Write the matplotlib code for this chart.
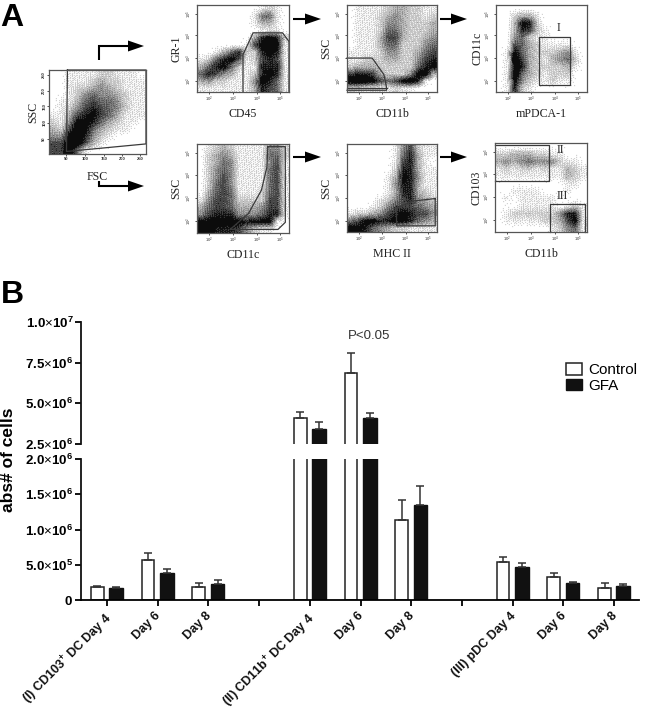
import numpy as np
import matplotlib
matplotlib.use("Agg")
import matplotlib.pyplot as plt
from matplotlib.patches import Patch
from matplotlib.transforms import ScaledTranslation

plt.rcParams['font.family'] = ['Liberation Sans', 'DejaVu Sans']
plt.rcParams['mathtext.fontset'] = 'custom'
plt.rcParams['mathtext.rm'] = 'Liberation Sans'
plt.rcParams['mathtext.bf'] = 'Liberation Sans:bold'

W, H = 650, 710

# ---- bar chart values
categories = ["(I) CD103$^{\\mathbf{+}}$ DC Day 4", "Day 6", "Day 8", "",
              "(II) CD11b$^{\\mathbf{+}}$ DC Day 4", "Day 6", "Day 8", "",
              "(III) pDC Day 4", "Day 6", "Day 8"]
control = [1.84e5, 5.74e5, 1.84e5, np.nan, 4.08e6, 6.89e6, 1.13e6, np.nan, 5.46e5, 3.29e5, 1.65e5]
control_top = [1.98e5, 6.64e5, 2.35e5, np.nan, 4.47e6, 8.07e6, 1.416e6, np.nan, 6.12e5, 3.86e5, 2.40e5]
gfa = [1.74e5, 3.81e5, 2.26e5, np.nan, 3.40e6, 4.08e6, 1.35e6, np.nan, 4.66e5, 2.35e5, 1.93e5]
gfa_top = [1.85e5, 4.38e5, 2.82e5, np.nan, 3.83e6, 4.43e6, 1.62e6, np.nan, 5.27e5, 2.59e5, 2.26e5]

upper_ticks = [2.5e6, 5.0e6, 7.5e6, 1.0e7]
upper_labels = ["2.5", "5.0", "7.5", "1.0"]
upper_exps = [6, 6, 6, 7]
lower_ticks = [0, 5.0e5, 1.0e6, 1.5e6, 2.0e6]
lower_labels = ["", "5.0", "1.0", "1.5", "2.0"]
lower_exps = [0, 5, 6, 6, 6]

# ---- flow panels: coarse dot density (0 white .. 9 black), top row first
density_fsc = ["001111221110", "001112322111", "001223432111", "001245443211",
               "011356554211", "012467654211", "113678653111", "214887532110",
               "326985321100", "448974210000", "669963100000", "669510000000"]
density_cd45 = ["000000001210", "000000015510", "000000013310", "000000001110",
                "000000037872", "000000168881", "001357227871", "125786126761",
                "357852117771", "576431127871", "342211148751", "111111137651"]
density_cd11c = ["012321111442", "023431111552", "023541111461", "024541111561",
                 "024641111561", "025641111561", "035651112561", "146652222661",
                 "356653334661", "467774445771", "888888788810", "997776421100"]
density_cd11b = ["011112332211", "011123432212", "011124432223", "011125532223",
                 "011136632234", "011135522245", "111124422356", "112223322467",
                 "233322222578", "677632224893", "999865689710", "221111211000"]
density_mhc = ["000000146211", "000000157311", "000000167310", "000000277311",
               "000001387411", "000001477311", "000001377321", "000012467432",
               "000124666543", "122346787664", "568877887543", "887543221111"]
density_pdca = ["000000000000", "002331000000", "003872000000", "003762100000",
                "004521100000", "006532111100", "018532223410", "019632134520",
                "019732222310", "019532122200", "018421121100", "017210000000"]
density_cd103 = ["000000000000", "223332211000", "343454442110", "121221211321",
                 "111111111321", "000000000110", "001111000100", "010111110000",
                 "000111110121", "012222224771", "011111223681", "000000012451"]

# gates, as fractions of the panel
gate_fsc = [[(.19, 1), (.18, .03), (1, .12), (1, 1), (.19, 1)]]
gate_cd45 = [[(.5, 0), (.5, .43), (.61, .68), (.93, .68), (1, .58), (1, 0)]]
gate_cd11c = [[(.77, .97), (.96, .97), (.96, .12), (.88, .04), (.36, .04),
               (.56, .22), (.70, .48), (.76, .74), (.77, .97)]]
gate_cd11b = [[(0, .39), (.28, .39), (.41, .2), (.44, .05), (.44, .02), (0, .02)],
              [(0, .05), (.44, .05)]]
gate_mhc = [[(.98, .38), (.72, .35), (.55, .27), (.55, .07), (.98, .07), (.98, .38)]]
gate_pdca = [[(.476, .63), (.813, .63), (.813, .077), (.476, .077), (.476, .63)]]
gate_cd103 = [[(0, .98), (.585, .98), (.585, .57), (0, .57)],
              [(.60, 0), (.60, .31), (.98, .31), (.98, 0)]]

log_ticks = [.13, .39, .65, .90]
log_labels = ["$10^2$", "$10^3$", "$10^4$", "$10^5$"]
lin_ticks = [.18, .37, .57, .75, .94]
lin_labels = ["50", "100", "150", "200", "250"]


def add_axes_px(left, top, right, bottom):
    """axes from pixel box, y counted from the top of the picture"""
    return fig.add_axes([left / W, 1 - bottom / H, (right - left) / W, (bottom - top) / H])


def halftone(density, nx, ny):
    """Turn a coarse density table into a dotted picture, with a fixed screen (no randomness)"""
    grid = np.array([[int(c) for c in row] for row in density], dtype=float)
    rows, cols = grid.shape
    # one value per pixel, by way of the cell centres
    xi = (np.arange(nx) + .5) / nx * cols - .5
    yi = (np.arange(ny) + .5) / ny * rows - .5
    across = np.array([np.interp(xi, np.arange(cols), row) for row in grid])
    full = np.array([np.interp(yi, np.arange(rows), col) for col in across.T]).T
    ink = np.clip(full / 7.5, 0, 1) ** 1.2
    jj, ii = np.meshgrid(np.arange(nx), np.arange(ny))
    screen = (ii * 0.7548776662 + jj * 0.5698402910) % 1.0
    return ink > screen


def flow_panel(box, density, gates, xlabel, ylabel, ticks=log_ticks, labels=log_labels,
               marks=(), xpad=3, ypad=2):
    ax = add_axes_px(*box)
    dots = halftone(density, 2 * (box[2] - box[0]), 2 * (box[3] - box[1]))
    ax.imshow(dots, cmap="gray_r", vmin=0, vmax=1.05, extent=(0, 1, 0, 1), aspect="auto",
              interpolation="hanning")
    for gate in gates:
        ax.plot(*zip(*gate), color="#3a3a3a", lw=0.9, clip_on=False)
    ax.set_xlim(0, 1)
    ax.set_ylim(0, 1)
    ax.set_xticks(ticks)
    ax.set_xticklabels(labels, fontsize=3, fontweight="bold")
    ax.set_yticks(ticks)
    ax.set_yticklabels(labels, fontsize=3, fontweight="bold", rotation=90, va="center")
    ax.tick_params(length=1.5, width=0.6, pad=0.5, color="#333333", labelcolor="#333333")
    for side in ax.spines.values():
        side.set_color("#555555")
        side.set_linewidth(0.9)
    ax.set_xlabel(xlabel, family="Liberation Serif", fontsize=8.6, labelpad=xpad, color="#222222")
    ax.set_ylabel(ylabel, family="Liberation Serif", fontsize=8.6, labelpad=ypad, color="#222222")
    for text, x, y in marks:
        ax.text(x, y, text, family="Liberation Serif", fontsize=8.5, ha="center", va="center",
                color="#222222")
    return ax


def arrow_px(overlay, points):
    """thick black arrow through pixel points, head at the last one"""
    xs, ys = zip(*points)
    overlay.plot(xs[:-1] + (xs[-1] - 14,), ys[:-1] + (ys[-1],), color="black", lw=1.5,
                 solid_joinstyle="miter", solid_capstyle="butt")
    overlay.fill([xs[-1] - 16, xs[-1], xs[-1] - 16], [ys[-1] - 5.5, ys[-1], ys[-1] + 5.5],
                 color="black", lw=0)


fig = plt.figure(figsize=(W / 100, H / 100), dpi=100, facecolor="white")

# ---- panel A
flow_panel((49, 70, 146, 154), density_fsc, gate_fsc, "FSC", "SSC", lin_ticks, lin_labels, xpad=7)
flow_panel((197, 5, 289, 92), density_cd45, gate_cd45, "CD45", "GR-1")
flow_panel((197, 144, 289, 233), density_cd11c, gate_cd11c, "CD11c", "SSC")
flow_panel((347, 5, 437, 92), density_cd11b, gate_cd11b, "CD11b", "SSC")
flow_panel((347, 144, 437, 232), density_mhc, gate_mhc, "MHC II", "SSC")
flow_panel((496, 5, 587, 92), density_pdca, gate_pdca, "mPDCA-1", "CD11c", ypad=0,
           marks=[("I", .69, .735)])
flow_panel((495, 143, 587, 232), density_cd103, gate_cd103, "CD11b", "CD103", ypad=0,
           marks=[("II", .71, .925), ("III", .73, .41)])

overlay = fig.add_axes([0, 0, 1, 1], zorder=5)
overlay.set_xlim(0, W)
overlay.set_ylim(H, 0)
overlay.axis("off")
arrow_px(overlay, [(99, 60), (99, 46), (144, 46)])
arrow_px(overlay, [(99, 181), (99, 186), (144, 186)])
arrow_px(overlay, [(293, 19), (321, 19)])
arrow_px(overlay, [(293, 157), (321, 157)])
arrow_px(overlay, [(440, 19), (467, 19)])
arrow_px(overlay, [(440, 157), (467, 157)])
overlay.text(0, 26, "A", fontsize=23, fontweight="bold", va="baseline")
overlay.text(1, 303, "B", fontsize=23, fontweight="bold", va="baseline")

# ---- panel B, broken axis
ax_up = add_axes_px(81, 322, 639, 444)
ax_low = add_axes_px(81, 459, 639, 600)
slots = np.arange(len(categories))
for ax in (ax_up, ax_low):
    ax.bar(slots - 0.19, control, 0.25, color="white", edgecolor="#222222", linewidth=1.1,
           label="Control")
    ax.bar(slots + 0.18, gfa, 0.27, color="#111111", edgecolor="#111111", linewidth=1.0,
           label="GFA")
    ax.errorbar(slots - 0.19, control, yerr=[np.zeros(len(slots)), np.array(control_top) - control],
                fmt="none", ecolor="#333333", elinewidth=1.1, capsize=3, capthick=1.1)
    ax.errorbar(slots + 0.18, gfa, yerr=[np.zeros(len(slots)), np.array(gfa_top) - gfa],
                fmt="none", ecolor="#333333", elinewidth=1.1, capsize=3, capthick=1.1)
    ax.set_xlim(-0.513, 10.49)
    ax.spines["top"].set_visible(False)
    ax.spines["right"].set_visible(False)
    ax.spines["left"].set_linewidth(1.3)
    ax.spines["left"].set_color("#111111")

ax_up.set_ylim(2.5e6, 1.0e7)
ax_up.spines["bottom"].set_visible(False)
ax_up.set_xticks([])
ax_up.set_yticks(upper_ticks)
ax_up.set_yticklabels(["$\\mathbf{%s}{\\times}\\mathbf{10^{%d}}$" % (m, e)
                       for m, e in zip(upper_labels, upper_exps)], fontsize=9.5)
ax_low.set_ylim(0, 2.0e6)
ax_low.spines["bottom"].set_linewidth(1.3)
ax_low.set_yticks(lower_ticks)
ax_low.set_yticklabels(["$\\mathbf{0}$" if e == 0 else "$\\mathbf{%s}{\\times}\\mathbf{10^{%d}}$" % (m, e)
                        for m, e in zip(lower_labels, lower_exps)], fontsize=9.5)
ax_up.tick_params(axis="y", length=4, width=1.3, pad=1.5)
ax_low.tick_params(axis="y", length=4, width=1.3, pad=1.5)
ax_low.set_xticks(slots)
ax_low.set_xticklabels(categories, rotation=45, ha="right", rotation_mode="anchor",
                       fontsize=9, fontweight="bold", color="#111111")
ax_low.tick_params(axis="x", length=4, width=1.3, pad=3)
nudge = ScaledTranslation(-3 / 100, 0, fig.dpi_scale_trans)
for label in ax_low.get_xticklabels():
    label.set_transform(label.get_transform() + nudge)

overlay.text(9, 460, "abs# of cells", fontsize=12.5, fontweight="bold", rotation=90,
             ha="center", va="center")
overlay.text(369, 336, "P<0.05", fontsize=9.5, color="#333333", ha="center", va="center")

handles = [Patch(facecolor="white", edgecolor="#222222", linewidth=1.1, label="Control"),
           Patch(facecolor="#111111", edgecolor="#111111", label="GFA")]
ax_up.legend(handles=handles, loc="upper left", bbox_to_anchor=(0.87, 0.665), frameon=False,
             fontsize=11, handlelength=1.0, handleheight=0.8, handletextpad=0.45,
             labelspacing=0.1, borderpad=0, borderaxespad=0)

fig.savefig("out.png", dpi=100)
